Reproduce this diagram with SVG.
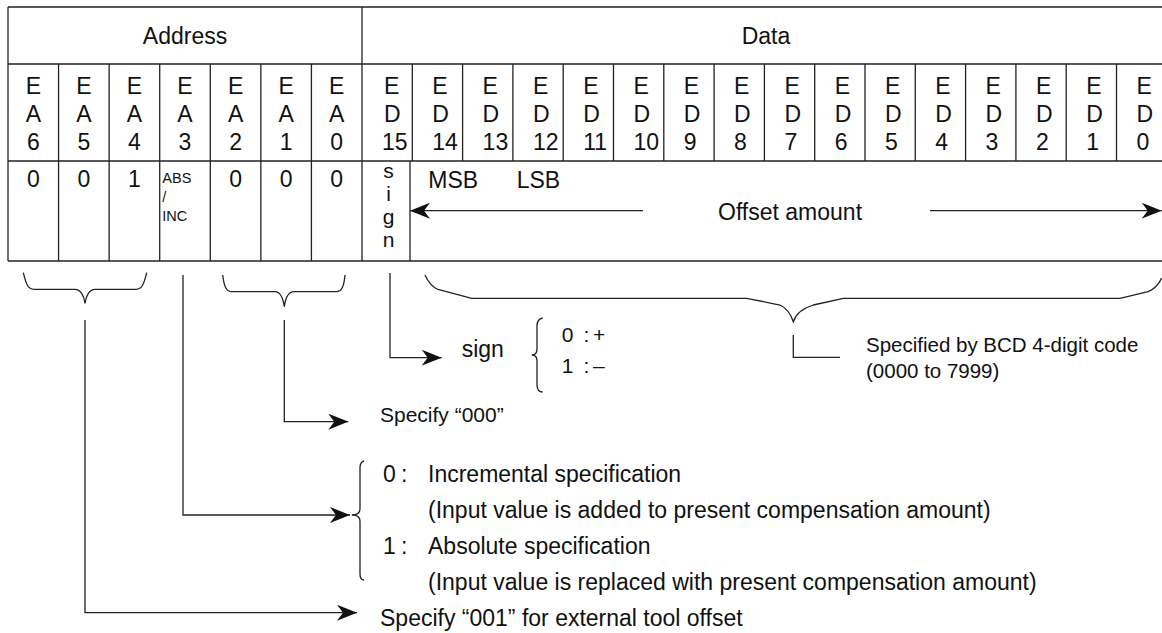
<svg xmlns="http://www.w3.org/2000/svg" width="1162" height="633" viewBox="0 0 1162 633">
<style>
.ln{stroke:#222;stroke-width:1.3;fill:none}
.t{font-family:"Liberation Sans",Arial,Helvetica,sans-serif;fill:#111}
.f23{font-size:23px}
.f21{font-size:21px}
.f20{font-size:20.5px}
.f14{font-size:14.5px}
.m{text-anchor:middle}
</style>
<defs>
<marker id="ah" viewBox="0 0 20 16" refX="20" refY="8" markerWidth="20" markerHeight="16" markerUnits="userSpaceOnUse" orient="auto-start-reverse">
<path d="M0,0 L20,8 L0,16 L6,8 Z" fill="#111"/>
</marker>
</defs>
<rect width="1162" height="633" fill="#fff"/>

<g id="table-grid" class="ln">
<path d="M8,7 H1162 M8,64 H1162 M8,161 H1162 M8,261 H1162 M8,7 V261 M362,7 V261"/>
<path d="M58.57,64 V261 M109.14,64 V261 M159.71,64 V261 M210.29,64 V261 M260.86,64 V261 M311.43,64 V261"/>
<path d="M412.3,64 V161 M462.6,64 V161 M512.9,64 V161 M563.2,64 V161 M613.5,64 V161 M663.8,64 V161 M714.1,64 V161 M764.4,64 V161 M814.7,64 V161 M865,64 V161 M915.3,64 V161 M965.6,64 V161 M1015.9,64 V161 M1066.2,64 V161 M1116.5,64 V161"/>
<path d="M410,161 V261"/>
</g>

<g id="hdr-address"><text class="t f23 m" x="185" y="44">Address</text></g>
<g id="hdr-data"><text class="t f23 m" x="766" y="44">Data</text></g>

<g id="addr-bits" class="t f23 m">
<g id="EA6"><text x="33.3" y="94">E</text><text x="33.3" y="122">A</text><text x="33.3" y="150">6</text><text x="33.3" y="187">0</text></g>
<g id="EA5"><text x="83.9" y="94">E</text><text x="83.9" y="122">A</text><text x="83.9" y="150">5</text><text x="83.9" y="187">0</text></g>
<g id="EA4"><text x="134.4" y="94">E</text><text x="134.4" y="122">A</text><text x="134.4" y="150">4</text><text x="134.4" y="187">1</text></g>
<g id="EA3"><text x="185" y="94">E</text><text x="185" y="122">A</text><text x="185" y="150">3</text></g>
<g id="EA2"><text x="235.6" y="94">E</text><text x="235.6" y="122">A</text><text x="235.6" y="150">2</text><text x="235.6" y="187">0</text></g>
<g id="EA1"><text x="286.1" y="94">E</text><text x="286.1" y="122">A</text><text x="286.1" y="150">1</text><text x="286.1" y="187">0</text></g>
<g id="EA0"><text x="336.7" y="94">E</text><text x="336.7" y="122">A</text><text x="336.7" y="150">0</text><text x="336.7" y="187">0</text></g>
</g>
<g id="abs-inc" class="t f14"><text x="162.3" y="183">ABS</text><text x="162.3" y="202">/</text><text x="162.3" y="221">INC</text></g>

<g id="data-bits" class="t f23">
<g id="ED15"><text x="384" y="94">E</text><text x="384" y="122">D</text><text x="382" y="150">15</text></g>
<g id="ED14"><text x="432.3" y="94">E</text><text x="432.3" y="122">D</text><text x="432.3" y="150">14</text></g>
<g id="ED13"><text x="482.6" y="94">E</text><text x="482.6" y="122">D</text><text x="482.6" y="150">13</text></g>
<g id="ED12"><text x="532.9" y="94">E</text><text x="532.9" y="122">D</text><text x="532.9" y="150">12</text></g>
<g id="ED11"><text x="583.2" y="94">E</text><text x="583.2" y="122">D</text><text x="583.2" y="150">11</text></g>
<g id="ED10"><text x="633.5" y="94">E</text><text x="633.5" y="122">D</text><text x="633.5" y="150">10</text></g>
<g id="ED9"><text x="683.8" y="94">E</text><text x="683.8" y="122">D</text><text x="683.8" y="150">9</text></g>
<g id="ED8"><text x="734.1" y="94">E</text><text x="734.1" y="122">D</text><text x="734.1" y="150">8</text></g>
<g id="ED7"><text x="784.4" y="94">E</text><text x="784.4" y="122">D</text><text x="784.4" y="150">7</text></g>
<g id="ED6"><text x="834.7" y="94">E</text><text x="834.7" y="122">D</text><text x="834.7" y="150">6</text></g>
<g id="ED5"><text x="885" y="94">E</text><text x="885" y="122">D</text><text x="885" y="150">5</text></g>
<g id="ED4"><text x="935.3" y="94">E</text><text x="935.3" y="122">D</text><text x="935.3" y="150">4</text></g>
<g id="ED3"><text x="985.6" y="94">E</text><text x="985.6" y="122">D</text><text x="985.6" y="150">3</text></g>
<g id="ED2"><text x="1035.9" y="94">E</text><text x="1035.9" y="122">D</text><text x="1035.9" y="150">2</text></g>
<g id="ED1"><text x="1086.2" y="94">E</text><text x="1086.2" y="122">D</text><text x="1086.2" y="150">1</text></g>
<g id="ED0"><text x="1136.5" y="94">E</text><text x="1136.5" y="122">D</text><text x="1136.5" y="150">0</text></g>
</g>

<g id="sign-cell" class="t f21 m"><text x="388.5" y="178">s</text><text x="388.5" y="201">i</text><text x="388.5" y="224">g</text><text x="388.5" y="247">n</text></g>
<g id="offset-cell" class="t f23"><text x="428.3" y="188">MSB</text><text x="516.7" y="188">LSB</text><text x="718" y="220">Offset amount</text></g>

<g id="braces" class="ln">
<path d="M23.3,272.7 C26,284 28,289.3 34,289.3 H75 C80,289.3 84,295 85,303.3 C86,295 90,289.3 95,289.3 H136 C142,289.3 144,284 146.7,272.7"/>
<path d="M222.7,275 C224,286 226,291.7 232,291.7 H275 C280,291.7 283,298 284.3,306.7 C285.5,298 289,291.7 294,291.7 H336 C342,291.7 344,286 345,275"/>
<path d="M425,275 Q430,286 438,289.5 L471.7,298.3 H746.7 L780,305 Q789,309 793.3,321.7 Q797,310 813.3,305 L843.3,298.3 H1120 L1148,291.7 Q1157,288 1161.7,278"/>
<path d="M542.7,318 Q537,319 537,326 V349 Q537,355 531.7,355 Q537,355 537,361 V385 Q537,392 542.7,392"/>
<path d="M364,461 Q360,462 360,468 V509 Q360,515 351.7,515 Q360,515 360,521 V574 Q360,580 364,580"/>
</g>

<g id="connectors" class="ln">
<path d="M643,210.7 H410" marker-end="url(#ah)"/>
<path d="M930,210.7 H1161.7" marker-end="url(#ah)"/>
<path d="M390,273 V357.7 H441.7" marker-end="url(#ah)"/>
<path d="M284.3,320 V421.7 H348.3" marker-end="url(#ah)"/>
<path d="M183,275 V515 H350" marker-end="url(#ah)"/>
<path d="M85,320 V612.7 H357" marker-end="url(#ah)"/>
<path d="M793.3,335 V357.3 H840"/>
</g>

<g id="sign-note" class="t">
<text class="f23" x="461.7" y="357">sign</text>
<text class="f21" y="342"><tspan x="561.7">0</tspan><tspan x="583.5">:</tspan><tspan x="593">+</tspan></text>
<text class="f21" y="373"><tspan x="561.7">1</tspan><tspan x="583.5">:</tspan><tspan x="593">–</tspan></text>
</g>
<g id="bcd-note" class="t f20"><text x="866" y="351.7">Specified by BCD 4-digit code</text><text x="866" y="378">(0000 to 7999)</text></g>
<g id="spec000-note" class="t f21"><text x="380" y="421.7">Specify “000”</text></g>
<g id="absinc-note" class="t f23">
<text y="482"><tspan x="383">0</tspan><tspan x="401">:</tspan><tspan x="428">Incremental specification</tspan></text>
<text x="428" y="518">(Input value is added to present compensation amount)</text>
<text y="554"><tspan x="383">1</tspan><tspan x="401">:</tspan><tspan x="428">Absolute specification</tspan></text>
<text x="428" y="590">(Input value is replaced with present compensation amount)</text>
</g>
<g id="spec001-note" class="t f23"><text x="380" y="626">Specify “001” for external tool offset</text></g>
</svg>
